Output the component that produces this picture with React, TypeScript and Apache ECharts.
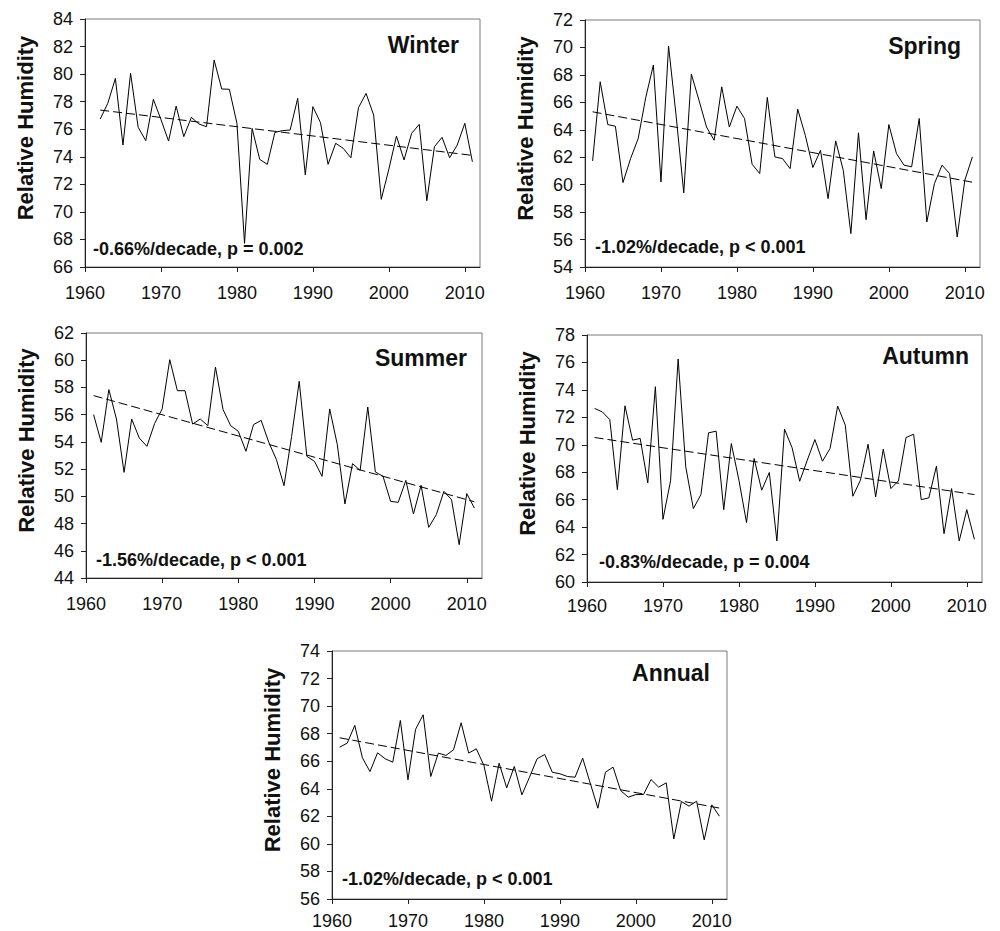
import React, { useEffect, useRef } from "react";
import * as echarts from "echarts";

// ---- data ----
const decadeTicks = [1960, 1970, 1980, 1990, 2000, 2010];

const winterStart = 1962;
const winter = [
  76.74, 77.88, 79.69, 74.85, 80.06, 76.14, 75.17, 78.17, 76.7, 75.14,
  77.68, 75.46, 76.86, 76.38, 76.18, 81.02, 78.92, 78.9, 76.43, 67.72,
  76.06, 73.81, 73.45, 75.77, 75.9, 75.94, 78.24, 72.68, 77.64, 76.48,
  73.45, 74.98, 74.61, 73.93, 77.56, 78.6, 77.03, 70.91, 73.1, 75.5,
  73.77, 75.7, 76.35, 70.81, 74.73, 75.41, 73.93, 74.85, 76.43, 73.64,
];
const springStart = 1961;
const spring = [
  61.73, 67.5, 64.38, 64.26, 60.15, 61.9, 63.36, 66.36, 68.72, 60.2,
  70.1, 65.0, 59.4, 68.06, 66.16, 64.2, 63.24, 67.13, 64.2, 65.72,
  64.82, 61.49, 60.81, 66.36, 62.02, 61.9, 61.17, 65.5, 63.6, 61.25,
  62.5, 58.98, 63.19, 61.05, 56.43, 63.78, 57.45, 62.46, 59.71, 64.38,
  62.27, 61.42, 61.3, 64.82, 57.28, 60.08, 61.42, 60.81, 56.19, 60.32,
  62.02,
];
const summerStart = 1961;
const summer = [
  56.0, 53.97, 57.84, 55.68, 51.76, 55.68, 54.28, 53.67, 55.34, 56.42,
  60.04, 57.76, 57.76, 55.31, 55.68, 55.19, 59.5, 56.37, 55.19, 54.78,
  53.31, 55.27, 55.58, 53.97, 52.7, 50.78, 54.4, 58.45, 52.94, 52.57,
  51.47, 56.42, 53.8, 49.44, 52.4, 51.91, 56.56, 51.79, 51.47, 49.63,
  49.56, 51.17, 48.7, 50.81, 47.72, 48.65, 50.37, 49.75, 46.45, 50.2,
  49.14,
];
const autumnStart = 1961;
const autumn = [
  72.65, 72.4, 71.84, 66.73, 72.84, 70.34, 70.46, 67.22, 74.23, 64.57,
  67.37, 76.25, 68.39, 65.35, 66.37, 70.87, 70.99, 65.27, 70.09, 67.42,
  64.33, 69.0, 66.69, 67.98, 62.99, 71.14, 69.78, 67.34, 68.88, 70.38,
  68.8, 69.73, 72.82, 71.43, 66.25, 67.42, 70.04, 66.2, 69.68, 66.81,
  67.37, 70.53, 70.77, 66.0, 66.13, 68.44, 63.52, 66.81, 62.99, 65.27,
  63.11,
];
const annualStart = 1961;
const annual = [
  67.02, 67.31, 68.6, 66.25, 65.25, 66.61, 66.18, 65.93, 68.96, 64.65,
  68.31, 69.37, 64.89, 66.59, 66.42, 66.83, 68.79, 66.59, 66.9, 65.69,
  63.1, 65.86, 64.07, 65.62, 63.56, 64.84, 66.18, 66.49, 65.2, 65.09,
  64.89, 64.84, 66.22, 64.4, 62.59, 65.2, 65.57, 63.87, 63.39, 63.58,
  63.58, 64.67, 64.12, 64.43, 60.36, 63.07, 62.74, 63.1, 60.29, 62.83,
  62.01,
];

// trend line endpoints [year, value]
const winterTrend = [[1962, 77.39], [2011, 74.1]];
const springTrend = [[1961, 65.31], [2011, 60.18]];
const summerTrend = [[1961, 57.4], [2011, 49.6]];
const autumnTrend = [[1961, 70.53], [2011, 66.37]];
const annualTrend = [[1961, 67.7], [2011, 62.6]];

const seasonNames = ["Winter", "Spring", "Summer", "Autumn", "Annual"];
const statTexts = [
  "-0.66%/decade, p = 0.002",
  "-1.02%/decade, p < 0.001",
  "-1.56%/decade, p < 0.001",
  "-0.83%/decade, p = 0.004",
  "-1.02%/decade, p < 0.001",
];
const yMins = [66, 54, 44, 60, 56];
const yMaxs = [84, 72, 62, 78, 74];
const yAxisTitle = "Relative Humidity";

// ---- layout ----
const panels = [
  { left: 85, top: 19, right: 480, bottom: 267, titleX: 459, titleY: 45, statX: 93, statY: 249, xMargin: 17 },
  { left: 585, top: 20, right: 980, bottom: 267, titleX: 961, titleY: 46, statX: 595, statY: 247, xMargin: 17 },
  { left: 86, top: 333, right: 482, bottom: 578, titleX: 467, titleY: 358, statX: 96, statY: 560, xMargin: 17 },
  { left: 587, top: 335, right: 982, bottom: 582, titleX: 969, titleY: 356, statX: 599, statY: 562, xMargin: 15 },
  { left: 332, top: 651, right: 727, bottom: 899, titleX: 710, titleY: 673, statX: 342, statY: 879, xMargin: 13 },
];

const FONT = "'Liberation Sans', Arial, Helvetica, sans-serif";

export default function App() {
  const ref = useRef<HTMLDivElement>(null);
  useEffect(() => {
    if (!ref.current) return;
    const chart = echarts.init(ref.current, undefined, { renderer: "svg" });
    const seriesData = [
      { start: winterStart, vals: winter, trend: winterTrend },
      { start: springStart, vals: spring, trend: springTrend },
      { start: summerStart, vals: summer, trend: summerTrend },
      { start: autumnStart, vals: autumn, trend: autumnTrend },
      { start: annualStart, vals: annual, trend: annualTrend },
    ];
    const grid = panels.map((p) => ({
      left: p.left,
      top: p.top,
      width: p.right - p.left,
      height: p.bottom - p.top,
      show: true,
      borderColor: "#7a7a7a",
      borderWidth: 1,
      backgroundColor: "transparent",
      containLabel: false,
      outerBoundsMode: "none",
    }));
    const xAxis = panels.map((p, i) => ({
      type: "value",
      gridIndex: i,
      min: 1960,
      max: 2012,
      interval: 10,
      splitLine: { show: false },
      axisLine: { show: true, onZero: false, lineStyle: { color: "#222", width: 1 } },
      axisTick: { show: true, length: 5, customValues: decadeTicks, lineStyle: { color: "#222" } },
      axisLabel: {
        show: true,
        customValues: decadeTicks,
        formatter: (v: number) => String(v),
        margin: p.xMargin,
        fontSize: 18,
        color: "#111",
        fontFamily: FONT,
      },
    }));
    const yAxis = panels.map((_, i) => ({
      type: "value",
      gridIndex: i,
      min: yMins[i],
      max: yMaxs[i],
      interval: 2,
      splitLine: { show: false },
      axisLine: { show: true, onZero: false, lineStyle: { color: "#222", width: 1 } },
      axisTick: { show: true, length: 5, lineStyle: { color: "#222" } },
      axisLabel: {
        show: true,
        margin: 12,
        fontSize: 18,
        color: "#111",
        fontFamily: FONT,
      },
    }));
    const series: any[] = [];
    seriesData.forEach((s, i) => {
      series.push({
        type: "line",
        xAxisIndex: i,
        yAxisIndex: i,
        data: s.vals.map((v, k) => [s.start + k, v]),
        symbol: "none",
        showSymbol: false,
        lineStyle: { color: "#000", width: 1 },
        z: 3,
      });
      series.push({
        type: "line",
        xAxisIndex: i,
        yAxisIndex: i,
        data: s.trend,
        symbol: "none",
        showSymbol: false,
        lineStyle: { color: "#000", width: 1, type: [9, 4] },
        z: 2,
      });
    });
    const graphic: any[] = [];
    panels.forEach((p, i) => {
      graphic.push({
        type: "text",
        x: p.titleX,
        y: p.titleY,
        style: {
          text: seasonNames[i],
          fill: "#111",
          fontSize: 23,
          fontWeight: "bold",
          fontFamily: FONT,
          align: "right",
          verticalAlign: "middle",
        },
      });
      graphic.push({
        type: "text",
        x: p.statX,
        y: p.statY,
        style: {
          text: statTexts[i],
          fill: "#111",
          fontSize: 18,
          fontWeight: "bold",
          fontFamily: FONT,
          align: "left",
          verticalAlign: "middle",
        },
      });
      graphic.push({
        type: "text",
        x: p.left - 60,
        y: (p.top + p.bottom) / 2 - 15,
        rotation: Math.PI / 2,
        style: {
          text: yAxisTitle,
          fill: "#111",
          fontSize: 22,
          fontWeight: "bold",
          fontFamily: FONT,
          align: "center",
          verticalAlign: "middle",
        },
      });
    });
    chart.setOption({
      animation: false,
      backgroundColor: "#fff",
      grid,
      xAxis,
      yAxis,
      series,
      graphic,
    });
    return () => chart.dispose();
  }, []);
  return (
    <div
      ref={ref}
      style={{ position: "fixed", left: 0, top: 0, width: 1000, height: 931, background: "#fff" }}
    />
  );
}
